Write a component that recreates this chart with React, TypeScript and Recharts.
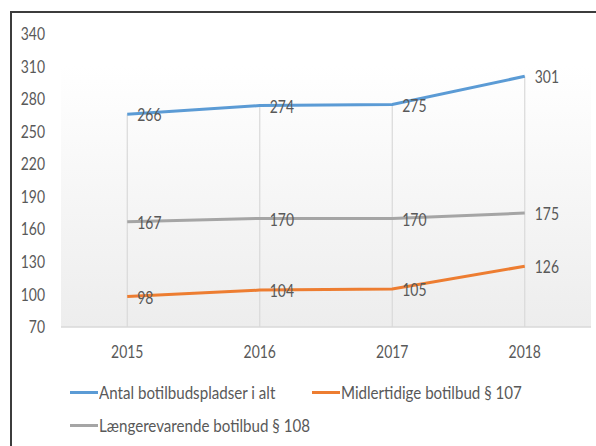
import React from "react";
import { LineChart, Line, XAxis, YAxis, LabelList, ReferenceLine, ReferenceArea } from "recharts";

const years = ["2015", "2016", "2017", "2018"];
const totalPlaces = [266, 274, 275, 301];
const temporary107 = [98, 104, 105, 126];
const longTerm108 = [167, 170, 170, 175];
const yTicks = [70, 100, 130, 160, 190, 220, 250, 280, 310, 340];

const seriesNames = {
  total: "Antal botilbudspladser i alt",
  temp: "Midlertidige botilbud § 107",
  long: "Længerevarende botilbud § 108",
};

const colors = { total: "#5B9BD5", temp: "#ED7D31", long: "#A5A5A5" };

const data = years.map((y, i) => ({
  year: y,
  total: totalPlaces[i],
  temp: temporary107[i],
  long: longTerm108[i],
}));

const FONT = 'Lato, "Open Sans", sans-serif';
const TEXT = "#595959";
const FS = 17;
const SX = 0.82;
const LSX = 0.89;

const legendItems = [
  { key: "total", left: 70, top: 381 },
  { key: "temp", left: 312, top: 381 },
  { key: "long", left: 70, top: 414 },
] as const;

const YTick = (props: any) => {
  const { x, y, payload } = props;
  return (
    <g transform={`translate(${x},${y})`}>
      <text transform={`scale(${SX},1)`} textAnchor="end" dy="0.36em" fill={TEXT} fontSize={FS} fontFamily={FONT}>
        {payload.value}
      </text>
    </g>
  );
};

const XTick = (props: any) => {
  const { x, y, payload } = props;
  return (
    <g transform={`translate(${x},${y})`}>
      <text transform={`scale(${SX},1)`} textAnchor="middle" dy="0.71em" fill={TEXT} fontSize={FS} fontFamily={FONT}>
        {payload.value}
      </text>
    </g>
  );
};

const PointLabel = (props: any) => {
  const { x, y, value } = props;
  return (
    <g transform={`translate(${x + 10},${y + 1})`}>
      <text transform={`scale(${SX},1)`} textAnchor="start" dy="0.36em" fill={TEXT} fontSize={FS} fontFamily={FONT}>
        {value}
      </text>
    </g>
  );
};

export default function App() {
  return (
    <div style={{ position: "fixed", left: 0, top: 0, width: 596, height: 446, overflow: "hidden", background: "#fff", fontFamily: FONT }}>
      <div style={{ position: "absolute", left: 10, top: 11, width: 700, height: 700, border: "2px solid #3c3c3c" }} />
      <div style={{ position: "absolute", left: 0, top: 0 }}>
        <LineChart width={596} height={446} data={data} margin={{ top: 34, right: 5, bottom: 89, left: 0 }}>
          <defs>
            <linearGradient id="bgGrad" x1="0" y1="0" x2="0" y2="1">
              <stop offset="0%" stopColor="#ffffff" />
              <stop offset="100%" stopColor="#ededed" />
            </linearGradient>
          </defs>
          <XAxis
            dataKey="year"
            scale="band"
            axisLine={{ stroke: "#d9d9d9", strokeWidth: 1.5 }}
            tickLine={false}
            tickSize={0}
            tickMargin={19}
            height={30}
            tick={<XTick />}
          />
          <YAxis
            domain={[70, 340]}
            ticks={yTicks}
            interval={0}
            width={61}
            axisLine={false}
            tickLine={false}
            tickSize={0}
            tickMargin={16}
            tick={<YTick />}
          />
          <ReferenceArea y1={70} y2={311} fill="url(#bgGrad)" fillOpacity={1} stroke="none" ifOverflow="extendDomain" />
          {years.map((y, i) => (
            <ReferenceLine
              key={y}
              segment={[{ x: y, y: totalPlaces[i] }, { x: y, y: 70 }]}
              stroke="#d9d9d9"
              strokeWidth={1.2}
            />
          ))}
          <Line dataKey="long" stroke={colors.long} strokeWidth={3} dot={false} isAnimationActive={false}>
            <LabelList dataKey="long" content={<PointLabel />} />
          </Line>
          <Line dataKey="temp" stroke={colors.temp} strokeWidth={3} dot={false} isAnimationActive={false}>
            <LabelList dataKey="temp" content={<PointLabel />} />
          </Line>
          <Line dataKey="total" stroke={colors.total} strokeWidth={3} dot={false} isAnimationActive={false}>
            <LabelList dataKey="total" content={<PointLabel />} />
          </Line>
        </LineChart>
      </div>
      {legendItems.map((it) => (
        <div
          key={it.key}
          style={{ position: "absolute", left: it.left, top: it.top, height: 22, display: "flex", alignItems: "center", fontSize: FS, color: TEXT, whiteSpace: "nowrap" }}
        >
          <span style={{ display: "inline-block", width: 28, height: 3, background: colors[it.key], marginRight: 1 }} />
          <span style={{ display: "inline-block", transform: `scaleX(${LSX})`, transformOrigin: "left center" }}>{seriesNames[it.key]}</span>
        </div>
      ))}
    </div>
  );
}
